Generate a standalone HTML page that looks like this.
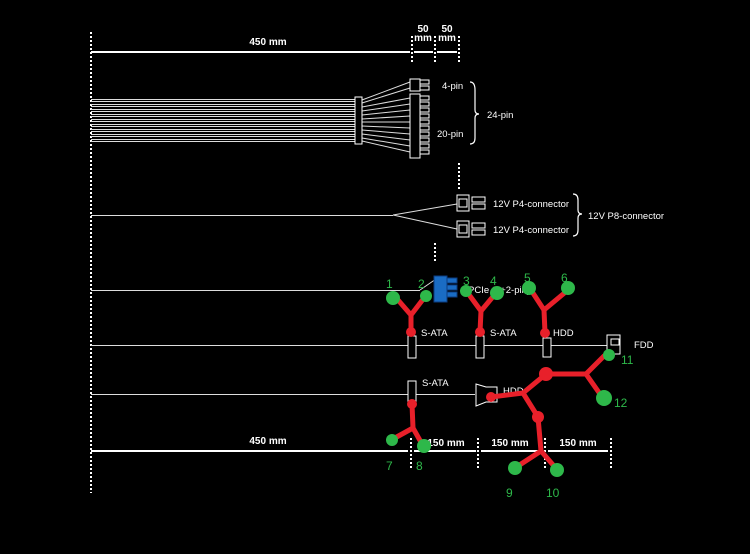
<!DOCTYPE html>
<html><head><style>body{margin:0;background:#000}svg{display:block}</style></head><body>
<svg width="750" height="554" xmlns="http://www.w3.org/2000/svg" font-family="Liberation Sans, sans-serif">
<rect width="750" height="554" fill="#000"/>
<g stroke="#fff" stroke-dasharray="2,2" stroke-width="2" fill="none">
<line x1="91" y1="32" x2="91" y2="493"/>
<line x1="412" y1="36" x2="412" y2="62"/><line x1="435" y1="36" x2="435" y2="62"/><line x1="459" y1="36" x2="459" y2="62"/>
<line x1="459" y1="163" x2="459" y2="190"/><line x1="435" y1="243" x2="435" y2="262"/>
<line x1="411" y1="438" x2="411" y2="470"/><line x1="478" y1="438" x2="478" y2="470"/><line x1="545" y1="438" x2="545" y2="470"/><line x1="611" y1="438" x2="611" y2="470"/>
</g>
<g stroke="#fff" stroke-width="2">
<line x1="91" y1="52" x2="410" y2="52"/><line x1="414" y1="52" x2="433" y2="52"/><line x1="437" y1="52" x2="457" y2="52"/>
<line x1="91" y1="451" x2="408" y2="451"/><line x1="414" y1="451" x2="476" y2="451"/><line x1="481" y1="451" x2="543" y2="451"/><line x1="548" y1="451" x2="608" y2="451"/>
</g>
<g fill="#fff" font-size="10" font-weight="bold" text-anchor="middle">
<text x="268" y="45">450 mm</text><text x="423" y="32">50</text><text x="423" y="41">mm</text><text x="447" y="32">50</text><text x="447" y="41">mm</text>
<text x="268" y="444">450 mm</text><text x="446" y="446">150 mm</text><text x="510" y="446">150 mm</text><text x="578" y="446">150 mm</text>
</g>
<g stroke="#ddd" stroke-width="1" shape-rendering="crispEdges">
<line x1="91" y1="99.5" x2="355" y2="99.5"/><line x1="91" y1="101.5" x2="355" y2="101.5"/><line x1="91" y1="104.5" x2="355" y2="104.5"/><line x1="91" y1="106.5" x2="355" y2="106.5"/><line x1="91" y1="109.5" x2="355" y2="109.5"/><line x1="91" y1="111.5" x2="355" y2="111.5"/><line x1="91" y1="114.5" x2="355" y2="114.5"/><line x1="91" y1="116.5" x2="355" y2="116.5"/><line x1="91" y1="119.5" x2="355" y2="119.5"/><line x1="91" y1="121.5" x2="355" y2="121.5"/><line x1="91" y1="124.5" x2="355" y2="124.5"/><line x1="91" y1="126.5" x2="355" y2="126.5"/><line x1="91" y1="129.5" x2="355" y2="129.5"/><line x1="91" y1="131.5" x2="355" y2="131.5"/><line x1="91" y1="134.5" x2="355" y2="134.5"/><line x1="91" y1="136.5" x2="355" y2="136.5"/><line x1="91" y1="139.5" x2="355" y2="139.5"/><line x1="91" y1="141.5" x2="355" y2="141.5"/>
<line x1="91" y1="215.5" x2="393" y2="215.5"/><line x1="91" y1="290.5" x2="420" y2="290.5"/><line x1="91" y1="345.5" x2="607" y2="345.5"/><line x1="91" y1="394.5" x2="475" y2="394.5"/>
</g>
<g stroke="#ddd" stroke-width="1">
<line x1="362" y1="100" x2="410" y2="82"/><line x1="362" y1="103" x2="410" y2="88"/><line x1="362" y1="107" x2="410" y2="98"/><line x1="362" y1="111" x2="410" y2="104"/><line x1="362" y1="115" x2="410" y2="110"/><line x1="362" y1="119" x2="410" y2="116"/><line x1="362" y1="122" x2="410" y2="122"/><line x1="362" y1="126" x2="410" y2="128"/><line x1="362" y1="130" x2="410" y2="134"/><line x1="362" y1="134" x2="410" y2="140"/><line x1="362" y1="138" x2="410" y2="146"/><line x1="362" y1="141" x2="410" y2="152"/>
<line x1="393" y1="215" x2="457" y2="204"/><line x1="393" y1="215" x2="457" y2="229"/>
<line x1="420" y1="290" x2="436" y2="279"/>
</g>
<g stroke="#fff" stroke-width="1" fill="#000">
<rect x="355" y="97" width="7" height="47"/>
<rect x="410" y="79" width="10" height="12"/><rect x="420" y="80" width="9" height="4"/><rect x="420" y="86" width="9" height="4"/>
<rect x="410" y="94" width="10" height="64"/>
<rect x="420" y="96" width="9" height="4"/><rect x="420" y="102" width="9" height="4"/><rect x="420" y="108" width="9" height="4"/><rect x="420" y="114" width="9" height="4"/><rect x="420" y="120" width="9" height="4"/><rect x="420" y="126" width="9" height="4"/><rect x="420" y="132" width="9" height="4"/><rect x="420" y="138" width="9" height="4"/><rect x="420" y="144" width="9" height="4"/><rect x="420" y="150" width="9" height="4"/>
<rect x="457" y="195" width="12" height="16"/><rect x="459" y="199" width="8" height="8"/><rect x="472" y="197" width="13" height="5"/><rect x="472" y="204" width="13" height="5"/>
<rect x="457" y="221" width="12" height="16"/><rect x="459" y="225" width="8" height="8"/><rect x="472" y="223" width="13" height="5"/><rect x="472" y="230" width="13" height="5"/>
<rect x="408" y="336" width="8" height="22"/><rect x="476" y="336" width="8" height="22"/><rect x="543" y="338" width="8" height="19"/>
<rect x="607" y="335" width="13" height="19"/><rect x="611" y="339" width="8" height="6"/>
<rect x="408" y="381" width="8" height="22"/>
<path d="M476 384 L486 387 L497 387 L497 402 L486 402 L476 406 Z"/>
</g>
<g fill="#1a6cc4" stroke="#0c3c80"><rect x="434" y="276" width="13" height="26"/><rect x="447" y="278" width="10" height="5"/><rect x="447" y="285" width="10" height="5"/><rect x="447" y="292" width="10" height="5"/></g>
<g fill="none" stroke="#fff" stroke-width="1.2">
<path d="M470 82 q5 0 5 8 v20 q0 4 4 4 q-4 0 -4 4 v20 q0 6 -5 6"/>
<path d="M573 194 q5 0 5 6 v10 q0 4 4 4 q-4 0 -4 4 v12 q0 6 -5 6"/>
</g>
<g fill="#fff" font-size="9.5">
<text x="442" y="89">4-pin</text><text x="437" y="137">20-pin</text><text x="487" y="118">24-pin</text>
<text x="493" y="207">12V P4-connector</text><text x="493" y="233">12V P4-connector</text><text x="588" y="219">12V P8-connector</text>
<text x="468" y="293">PCIe (6+2-pin)</text>
<text x="421" y="336">S-ATA</text><text x="490" y="336">S-ATA</text><text x="553" y="336">HDD</text><text x="634" y="348">FDD</text>
<text x="422" y="386">S-ATA</text><text x="503" y="394">HDD</text>
</g>
<g stroke="#e8202a" stroke-width="5" fill="none" stroke-linecap="round" stroke-linejoin="round">
<path d="M398 300 L411 315 L424 298 M411 315 L411 332"/>
<path d="M470 296 L481 311 L496 293 M481 311 L480 332"/>
<path d="M531 290 L544 310 L568 290 M544 310 L545 333"/>
<path d="M491 397 L523 393 L546 374 L586 374 L604 356 M586 374 L600 394 M523 393 L538 417 L541 451 L518 466 M541 451 L554 466"/>
<path d="M412 404 L413 428 L393 439 M413 428 L422 444"/>
</g>
<g fill="#e8202a"><circle cx="411" cy="332" r="5"/><circle cx="480" cy="332" r="5"/><circle cx="545" cy="333" r="5"/><circle cx="491" cy="397" r="5"/><circle cx="546" cy="374" r="7"/><circle cx="538" cy="417" r="6"/><circle cx="412" cy="404" r="5"/></g>
<g fill="#2eb84a"><circle cx="393" cy="298" r="7"/><circle cx="426" cy="296" r="6"/><circle cx="466" cy="291" r="6"/><circle cx="497" cy="293" r="7"/><circle cx="529" cy="288" r="7"/><circle cx="568" cy="288" r="7"/><circle cx="609" cy="355" r="6"/><circle cx="604" cy="398" r="8"/><circle cx="515" cy="468" r="7"/><circle cx="557" cy="470" r="7"/><circle cx="392" cy="440" r="6"/><circle cx="424" cy="446" r="7"/></g>
<g fill="#2eb84a" font-size="12">
<text x="386" y="288">1</text><text x="418" y="288">2</text><text x="463" y="285">3</text><text x="490" y="285">4</text><text x="524" y="282">5</text><text x="561" y="282">6</text>
<text x="386" y="470">7</text><text x="416" y="470">8</text><text x="506" y="497">9</text><text x="546" y="497">10</text><text x="621" y="364">11</text><text x="614" y="407">12</text>
</g>
</svg>
</body></html>
